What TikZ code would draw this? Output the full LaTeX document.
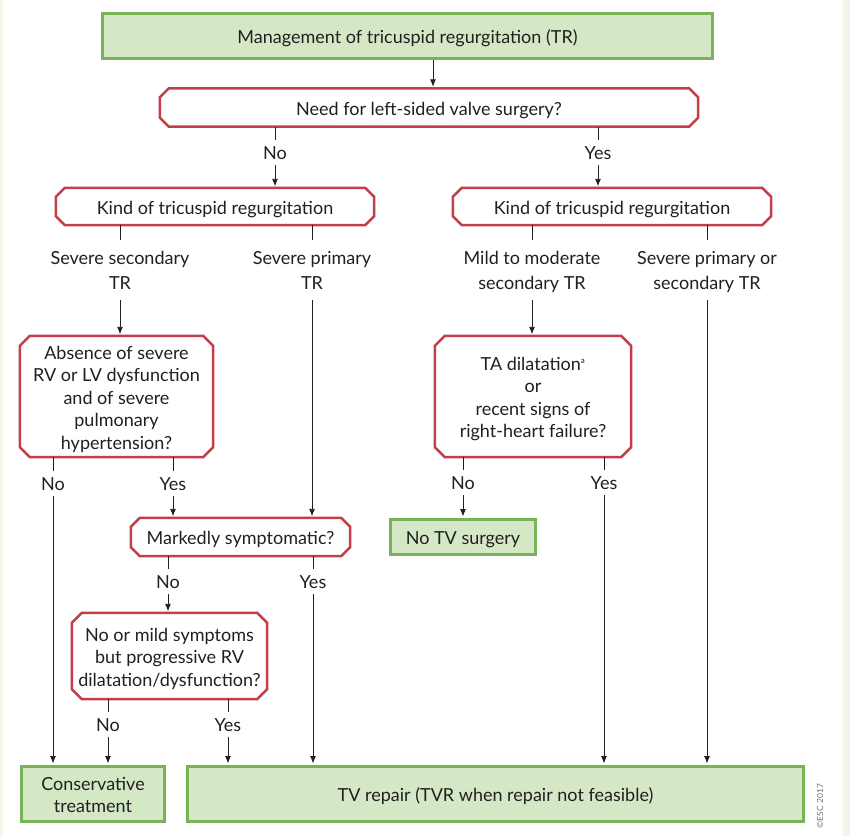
\documentclass[tikz,border=0pt]{standalone}
\usepackage{fontspec}
\setmainfont{Lato}
\usetikzlibrary{arrows.meta,calc}
\definecolor{gborder}{RGB}{122,178,90}
\definecolor{gfill}{RGB}{213,232,197}
\definecolor{rborder}{RGB}{196,62,72}
\definecolor{cream}{RGB}{243,244,234}
\definecolor{ink}{RGB}{35,31,32}
\newcommand\topr{\rule{0pt}{20.5pt}}
\newcommand\labr{\rule{0pt}{18pt}}
\begin{document}
\begin{tikzpicture}[x=1pt,y=-1pt,
  txt/.style={font=\fontsize{18}{22.5}\selectfont, align=center, text=ink},
  even/.style={execute at begin node={\topr}, execute at end node={\rule[-5.5pt]{0pt}{5.5pt}}},
  sz/.style 2 args={minimum width=#1pt, minimum height=#2pt},
  gbox/.style={txt, even, draw=gborder, fill=gfill, line width=3pt, inner sep=0pt},
  rbox/.style={txt, even, inner sep=0pt},
  lab/.style={txt, inner sep=0pt, minimum height=25pt, text height=14pt, text depth=0pt},
  lab2/.style={txt, font=\fontsize{18}{25}\selectfont, inner sep=0pt, minimum height=60pt,
    execute at end node={\rule[-5pt]{0pt}{5pt}}},
  conn/.style={line width=0.9pt, draw=ink},
  arr/.style={conn, -{Latex[length=7.5pt,width=6pt]}, shorten >=1.5pt},
  octo/.style={draw=rborder, line width=2.5pt, line join=miter}
]
\fill[white] (0,0) rectangle (850,836);
\fill[cream] (0,0) rectangle (3,836);
\fill[cream] (843,0) rectangle (850,836);
\useasboundingbox (0,0) rectangle (850,836);

% boxes
\node[gbox, sz={610}{45}] (top) at (407.5,36) {Management of tricuspid regurgitation (TR)};
\node[rbox, sz={538}{38}] (need) at (429,107.5) {Need for left-sided valve surgery?};
\node[rbox, sz={318}{37}] (kindL) at (215,206.5) {Kind of tricuspid regurgitation};
\node[rbox, sz={318}{37}] (kindR) at (612,206.5) {Kind of tricuspid regurgitation};
\node[rbox, sz={193}{121}] (abs) at (116.5,396.5) {\topr Absence of severe\\RV or LV dysfunction\\and of severe\\pulmonary\\hypertension?};
\node[rbox, sz={196}{121}] (ta) at (533,396.5) {\topr TA dilatation\textsuperscript{\fontsize{8}{8}\selectfont a}\\or\\recent signs of\\right-heart failure?};
\node[rbox, sz={219}{38}] (mark) at (240.5,537) {Markedly symptomatic?};
\node[gbox, sz={145}{35}] (notv) at (463,537) {No TV surgery};
\node[rbox, sz={195}{86}] (mild) at (169.5,656) {\topr No or mild symptoms\\but progressive RV\\dilatation/dysfunction?};
\node[gbox, sz={143}{55}] (cons) at (93,794) {\topr Conservative\\treatment};
\node[gbox, sz={616}{55}] (tvr) at (495.5,794) {TV repair (TVR when repair not feasible)};

% octagon outlines
\foreach \n/\c in {need/9,kindL/9,kindR/9,abs/10,ta/10,mark/9,mild/10}{
  \draw[octo] ([xshift=\c pt]\n.north west) -- ([xshift=-\c pt]\n.north east)
    -- ([yshift=-\c pt]\n.north east) -- ([yshift=\c pt]\n.south east)
    -- ([xshift=-\c pt]\n.south east) -- ([xshift=\c pt]\n.south west)
    -- ([yshift=\c pt]\n.south west) -- ([yshift=-\c pt]\n.north west) -- cycle;
}

% labels
\node[lab] (n1) at (275,152.5) {No};
\node[lab] (y1) at (598,152.5) {Yes};
\node[lab2] (ssec) at (120,270) {\labr Severe secondary\\TR};
\node[lab2] (sprim) at (312,270) {\labr Severe primary\\TR};
\node[lab2] (mmod) at (532,270) {\labr Mild to moderate\\secondary TR};
\node[lab2] (sps) at (707,270) {\labr Severe primary or\\secondary TR};
\node[lab] (n2) at (53,483.5) {No};
\node[lab] (y2) at (173,483.5) {Yes};
\node[lab] (n3) at (463,482.5) {No};
\node[lab] (y3) at (604,482.5) {Yes};
\node[lab] (n4) at (168,581.5) {No};
\node[lab] (y4) at (313,581.5) {Yes};
\node[lab] (n5) at (108,724.5) {No};
\node[lab] (y5) at (228,724.5) {Yes};

\node[rotate=90, font=\fontsize{8.5}{9}\selectfont, text=black!55] (esc) at (820,806) {©ESC 2017};

% connectors
\coordinate (ax) at (433,0);
\draw[arr] (top.south -| ax) -- (need.north -| ax);
\draw[conn] (need.south -| n1) -- (n1.north);
\draw[arr] (n1.south) -- (kindL.north -| n1);
\draw[conn] (need.south -| y1) -- (y1.north);
\draw[arr] (y1.south) -- (kindR.north -| y1);

\draw[conn] (kindL.south -| ssec) -- (ssec.north);
\draw[arr] (ssec.south) -- (abs.north -| ssec);
\draw[conn] (kindL.south -| sprim) -- (sprim.north);
\draw[arr] (sprim.south) -- (mark.north -| sprim);
\draw[conn] (kindR.south -| mmod) -- (mmod.north);
\draw[arr] (mmod.south) -- (ta.north -| mmod);
\draw[conn] (kindR.south -| sps) -- (sps.north);
\draw[arr] (sps.south) -- (tvr.north -| sps);

\draw[conn] (abs.south -| n2) -- (n2.north);
\draw[arr] (n2.south) -- (cons.north -| n2);
\draw[conn] (abs.south -| y2) -- (y2.north);
\draw[arr] (y2.south) -- (mark.north -| y2);

\draw[conn] (ta.south -| n3) -- (n3.north);
\draw[arr] (n3.south) -- (notv.north -| n3);
\draw[conn] (ta.south -| y3) -- (y3.north);
\draw[arr] (y3.south) -- (tvr.north -| y3);

\draw[conn] (mark.south -| n4) -- (n4.north);
\draw[arr] (n4.south) -- (mild.north -| n4);
\draw[conn] (mark.south -| y4) -- (y4.north);
\draw[arr] (y4.south) -- (tvr.north -| y4);

\draw[conn] (mild.south -| n5) -- (n5.north);
\draw[arr] (n5.south) -- (cons.north -| n5);
\draw[conn] (mild.south -| y5) -- (y5.north);
\draw[arr] (y5.south) -- (tvr.north -| y5);
\end{tikzpicture}
\end{document}
